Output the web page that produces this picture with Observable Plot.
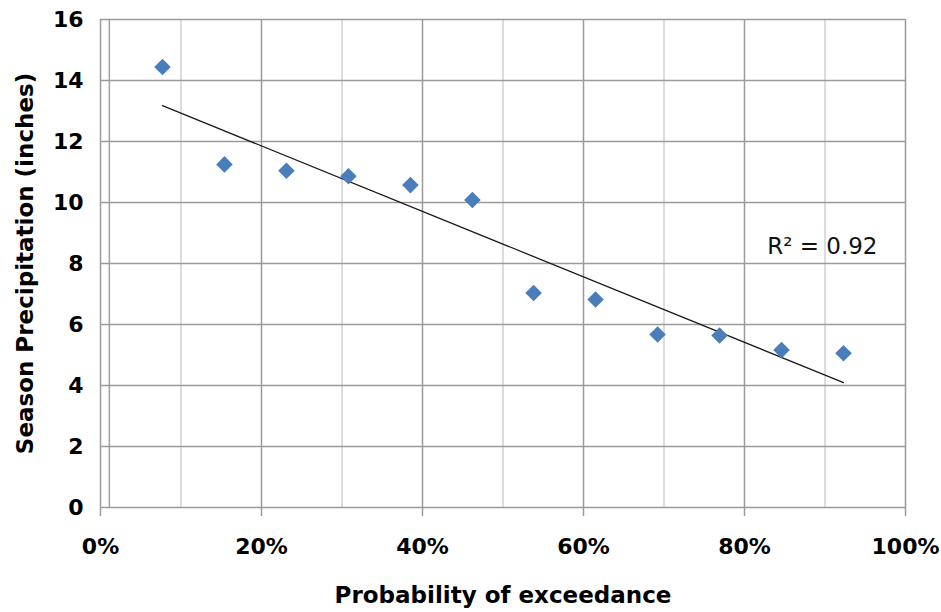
<!DOCTYPE html>
<html>
<head>
<meta charset="utf-8">
<script src="https://cdn.jsdelivr.net/npm/d3@7"></script>
<script src="https://cdn.jsdelivr.net/npm/@observablehq/plot@0.6"></script>
<style>
  html, body { margin: 0; padding: 0; background: #fff; }
  #chart svg { display: block; }
</style>
</head>
<body>
<div id="chart"></div>
<script>
// Data
const probability = [0.077, 0.154, 0.231, 0.308, 0.385, 0.462, 0.538, 0.615, 0.692, 0.769, 0.846, 0.923];
const precipitation = [14.44, 11.25, 11.04, 10.86, 10.57, 10.08, 7.03, 6.82, 5.67, 5.64, 5.16, 5.06];

// Axis / tick definitions
const xTicks = [0, 0.2, 0.4, 0.6, 0.8, 1.0];
const xMinorGrid = [0.1, 0.3, 0.5, 0.7, 0.9];
const xExtraGrid = [0.011];
const yTicks = [0, 2, 4, 6, 8, 10, 12, 14, 16];

const xTitle = "Probability of exceedance";
const yTitle = "Season Precipitation (inches)";
const r2Label = "R² = 0.92";

const data = probability.map((p, i) => ({p, v: precipitation[i]}));

const FONT = "'DejaVu Sans', 'Liberation Sans', Arial, sans-serif";

const chart = Plot.plot({
  width: 941,
  height: 612,
  marginLeft: 100,
  marginRight: 36,
  marginTop: 19,
  marginBottom: 105,
  style: {fontFamily: FONT, fontSize: "22px", fontWeight: "bold", color: "#000", background: "#fff"},
  x: {domain: [0, 1]},
  y: {domain: [0, 16]},
  marks: [
    Plot.ruleX(xMinorGrid, {stroke: "#d0d0d0", strokeWidth: 1.5}),
    Plot.ruleX(xExtraGrid, {stroke: "#a0a0a0", strokeWidth: 1.5}),
    Plot.ruleX(xTicks, {stroke: "#9a9a9a", strokeWidth: 1.5}),
    Plot.ruleY(yTicks, {stroke: "#9a9a9a", strokeWidth: 1.5}),
    Plot.axisX({
      ticks: xTicks,
      tickFormat: d3.format(".0%"),
      tickSize: 9,
      tickPadding: 22,
      stroke: "#9a9a9a",
      strokeWidth: 1.5,
      fill: "#000",
      label: null
    }),
    Plot.axisY({
      ticks: yTicks,
      tickSize: 0,
      tickPadding: 17,
      fill: "#000",
      label: null
    }),
    Plot.linearRegressionY(data, {x: "p", y: "v", stroke: "#1a1a1a", strokeWidth: 1.3, ci: 0}),
    Plot.dot(data, {x: "p", y: "v", symbol: "square", rotate: 45, r: 6.6, fill: "#4a7ebb", stroke: "none"}),
    Plot.text([r2Label], {
      frameAnchor: "top-right", textAnchor: "end", lineAnchor: "bottom",
      dx: -28, dy: 234, fontSize: 23, fontWeight: "normal", fill: "#111"
    }),
    Plot.text([xTitle], {
      frameAnchor: "bottom", lineAnchor: "bottom", dy: 95,
      fontSize: 23, fontWeight: "bold", fill: "#000"
    }),
    Plot.text([yTitle], {
      frameAnchor: "left", textAnchor: "middle", lineAnchor: "middle", rotate: -90, dx: -75,
      fontSize: 23, fontWeight: "bold", fill: "#000"
    })
  ]
});

document.getElementById("chart").appendChild(chart);
</script>
</body>
</html>
